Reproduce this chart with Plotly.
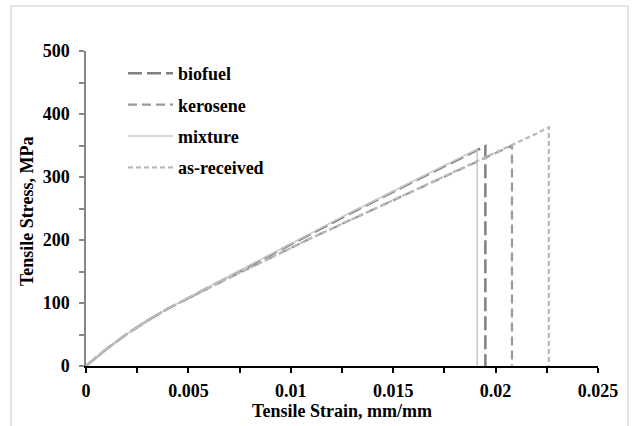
import plotly.graph_objects as go

# ---- data (strain mm/mm, stress MPa) ----
biofuel_strain = [0, 0.001, 0.002, 0.003, 0.004, 0.005, 0.006, 0.007, 0.008, 0.009, 0.010,
                  0.011, 0.012, 0.013, 0.014, 0.015, 0.016, 0.017, 0.018, 0.019, 0.0195, 0.0195]
biofuel_stress = [0, 27, 51, 72, 91, 108, 125, 142, 159, 176, 194,
                  211, 227, 244, 260, 277, 293, 309, 325, 341, 349, 0]

kerosene_strain = [0, 0.001, 0.002, 0.003, 0.004, 0.005, 0.006, 0.007, 0.008, 0.009, 0.010,
                   0.011, 0.012, 0.013, 0.014, 0.015, 0.016, 0.017, 0.018, 0.019, 0.020, 0.0208, 0.0208]
kerosene_stress = [0, 27, 51, 72, 91, 108, 124, 140, 156, 172, 188,
                   203, 218, 233, 248, 263, 278, 293, 308, 323, 338, 350, 0]

mixture_strain = [0, 0.001, 0.002, 0.003, 0.004, 0.005, 0.006, 0.007, 0.008, 0.009, 0.010,
                  0.011, 0.012, 0.013, 0.014, 0.015, 0.016, 0.017, 0.018, 0.019, 0.0191, 0.0191]
mixture_stress = [0, 27, 51, 72, 91, 109, 126, 143, 160, 177, 195,
                  212, 228, 245, 261, 278, 294, 310, 326, 342, 344, 0]

asrec_strain = [0, 0.001, 0.002, 0.003, 0.004, 0.005, 0.006, 0.007, 0.008, 0.009, 0.010,
                0.011, 0.012, 0.013, 0.014, 0.015, 0.016, 0.017, 0.018, 0.019, 0.020, 0.021, 0.022, 0.0226, 0.0226]
asrec_stress = [0, 27, 51, 72, 91, 108, 124, 140, 156, 172, 188,
                203, 218, 233, 248, 264, 279, 294, 309, 324, 339, 354, 369, 379, 0]

x_ticks = [0, 0.005, 0.01, 0.015, 0.02, 0.025]
x_tick_labels = ["0", "0.005", "0.01", "0.015", "0.02", "0.025"]
y_ticks = [0, 100, 200, 300, 400, 500]

FONT = "Liberation Serif, Times New Roman, serif"
FS = 18

fig = go.Figure()
fig.add_trace(go.Scatter(x=biofuel_strain, y=biofuel_stress, mode="lines", name="<b>biofuel</b>",
                         legendgroup="a", line=dict(color="#808080", width=2.5, dash="14px,5px")))
fig.add_trace(go.Scatter(x=kerosene_strain, y=kerosene_stress, mode="lines", name="<b>kerosene</b>",
                         legendgroup="b", line=dict(color="#9a9a9a", width=2.25, dash="9px,5px")))
fig.add_trace(go.Scatter(x=mixture_strain, y=mixture_stress, mode="lines", name="<b>mixture</b>",
                         legendgroup="c", line=dict(color="#c8c8c8", width=1.5)))
fig.add_trace(go.Scatter(x=asrec_strain, y=asrec_stress, mode="lines", name="<b>as-received</b>",
                         legendgroup="d", line=dict(color="#bababa", width=2.25, dash="5px,3px")))

W, H = 632, 426
L, R, T, B = 86, 34, 51, 60
pw, ph = W - L - R, H - T - B

def px_x(p):
    return (p - L) / pw

def px_y(p):
    return (H - B - p) / ph

fig.add_shape(type="rect", xref="paper", yref="paper",
              x0=px_x(11), x1=px_x(628), y0=px_y(430), y1=px_y(6),
              line=dict(color="#d9dde3", width=1.5), layer="below")

fig.add_annotation(text="<b>Tensile Stress, MPa</b>", xref="paper", yref="paper",
                   x=px_x(27), y=px_y(211), xanchor="center", yanchor="middle",
                   textangle=-90, showarrow=False, font=dict(family=FONT, size=FS, color="black"))

fig.update_layout(
    width=W, height=H,
    margin=dict(l=L, r=R, t=T, b=B, autoexpand=False),
    paper_bgcolor="white", plot_bgcolor="white",
    font=dict(family=FONT, size=FS, color="black"),
    showlegend=True,
    legend=dict(x=px_x(123), y=px_y(55), xanchor="left", yanchor="top",
                bgcolor="rgba(0,0,0,0)", tracegroupgap=5, itemwidth=45,
                font=dict(family=FONT, size=FS, color="black")),
    xaxis=dict(range=[0, 0.025], tickvals=x_ticks, ticktext=["<b>%s</b>" % t for t in x_tick_labels],
               automargin=False,
               showgrid=False, zeroline=False, showline=True, linecolor="black", linewidth=1.5,
               ticks="outside", ticklen=5, tickcolor="black", tickwidth=1.5, ticklabelstandoff=3,
               minor=dict(dtick=0.0025, ticks="outside", ticklen=5, tickcolor="black", tickwidth=1.5),
               title=dict(text="<b>Tensile Strain, mm/mm</b>", font=dict(family=FONT, size=FS), standoff=4)),
    yaxis=dict(range=[0, 500], tickvals=y_ticks, ticktext=["<b>%d</b>" % t for t in y_ticks],
               automargin=False,
               showgrid=False, zeroline=False, showline=True, linecolor="#868686", linewidth=1.5,
               ticks="outside", ticklen=5, tickcolor="#868686", tickwidth=1.5, ticklabelstandoff=6,
               minor=dict(dtick=50, ticks="outside", ticklen=5, tickcolor="#868686", tickwidth=1.5)),
)

fig.write_html("out.html")
